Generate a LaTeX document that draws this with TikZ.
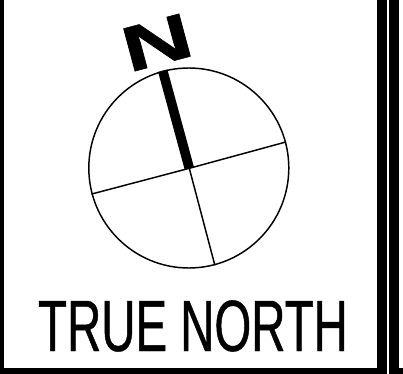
\documentclass[tikz,border=0pt]{standalone}
\usepackage{fontspec}
\setmainfont{Liberation Sans}
\newfontfamily\northfont{Liberation Sans Bold}[FakeBold=0.8]
\newfontfamily\titlefont{Liberation Sans}[FakeStretch=0.652,FakeBold=0.6]
\usetikzlibrary{positioning}
\begin{document}
\begin{tikzpicture}[x=0.75pt,y=-0.75pt,
    panel/.style={fill=black,draw=none},
    hairline/.style={line width=1.1pt},
    needle/.style={line width=7.2pt}]
  \useasboundingbox (0,0) rectangle (403,374);
  % frame of the sheet
  \fill[panel] (0,0) rectangle (3.5,374);
  \fill[panel] (377,0) rectangle (387,374);
  \fill[panel] (389,0) rectangle (399,374);
  \fill[panel] (0,367.5) rectangle (387,374);
  \fill[panel] (389,367.5) rectangle (403,374);
  % the compass
  \node[draw,circle,hairline,inner sep=0pt,minimum size=150pt] (dial) at (188.8,168) {};
  \coordinate (hub) at (189.3,168.3);
  \draw[hairline] (dial.15) -- (hub);
  \draw[hairline] (dial.195) -- (hub);
  \draw[hairline] (dial.285) -- (hub);
  \draw[needle] (dial.105) -- (hub);
  \node[rotate=15,inner sep=0pt,font=\fontsize{48}{48}\northfont] (north) at (157,42.5) {\scalebox{1.52}[1]{N}};
  \node[inner sep=0pt,anchor=base,font=\fontsize{54.5}{54.5}\titlefont] (title) at (193,351) {TRUE NORTH};
\end{tikzpicture}
\end{document}
